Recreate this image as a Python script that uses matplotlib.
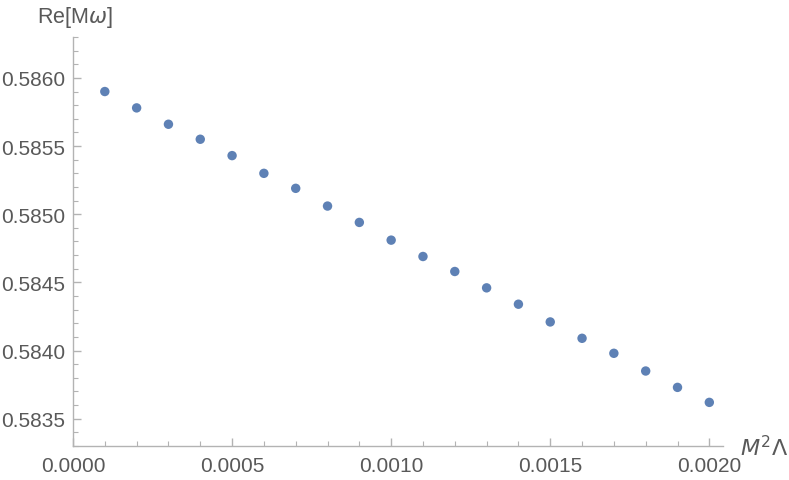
import matplotlib
matplotlib.use("Agg")
import matplotlib.pyplot as plt
from matplotlib.ticker import MultipleLocator, FormatStrFormatter

x_vals = [0.0001, 0.0002, 0.0003, 0.0004, 0.0005, 0.0006, 0.0007, 0.0008, 0.0009, 0.0010,
          0.0011, 0.0012, 0.0013, 0.0014, 0.0015, 0.0016, 0.0017, 0.0018, 0.0019, 0.0020]
re_vals = [0.58590, 0.58578, 0.58566, 0.58555, 0.58543, 0.58530, 0.58519, 0.58506, 0.58494, 0.58481,
           0.58469, 0.58458, 0.58446, 0.58434, 0.58421, 0.58409, 0.58398, 0.58385, 0.58373, 0.58362]

plt.rcParams['font.family'] = ['Liberation Sans', 'DejaVu Sans']
plt.rcParams['mathtext.fontset'] = 'dejavusans'

fig = plt.figure(figsize=(7.89, 4.81), dpi=100)
W, H = 789, 481
ax = fig.add_axes([73 / W, (H - 447) / H, (723 - 73) / W, (447 - 38) / H])

ax.scatter(x_vals, re_vals, s=46, color='#5E81B5', edgecolors='none', zorder=3)

ax.set_xlim(0.0, 0.002043)
ax.set_ylim(0.58330, 0.58630)

axis_col = '#b3b3b3'
text_col = '#595959'
for s in ['top', 'right']:
    ax.spines[s].set_visible(False)
for s in ['left', 'bottom']:
    ax.spines[s].set_color(axis_col)
    ax.spines[s].set_linewidth(1.0)

ax.xaxis.set_major_locator(MultipleLocator(0.0005))
ax.xaxis.set_minor_locator(MultipleLocator(0.0001))
ax.yaxis.set_major_locator(MultipleLocator(0.0005))
ax.yaxis.set_minor_locator(MultipleLocator(0.0001))
ax.xaxis.set_major_formatter(FormatStrFormatter('%.4f'))
ax.yaxis.set_major_formatter(FormatStrFormatter('%.4f'))

ax.tick_params(which='both', direction='in', color=axis_col, labelcolor=text_col,
               labelsize=15)
ax.tick_params(which='major', length=6, width=1)
ax.tick_params(which='minor', length=3.5, width=0.8)
ax.tick_params(axis='x', pad=7.5)
ax.tick_params(axis='y', pad=5.8)

fig.text(37 / W, 1 - 17 / H, 'Re[M$\\omega$]', color=text_col, fontsize=15.5,
         ha='left', va='center')
fig.text(740 / W, 1 - 449 / H, '$M^2\\Lambda$', color=text_col, fontsize=16,
         ha='left', va='center')

fig.savefig('out.png', dpi=100)
